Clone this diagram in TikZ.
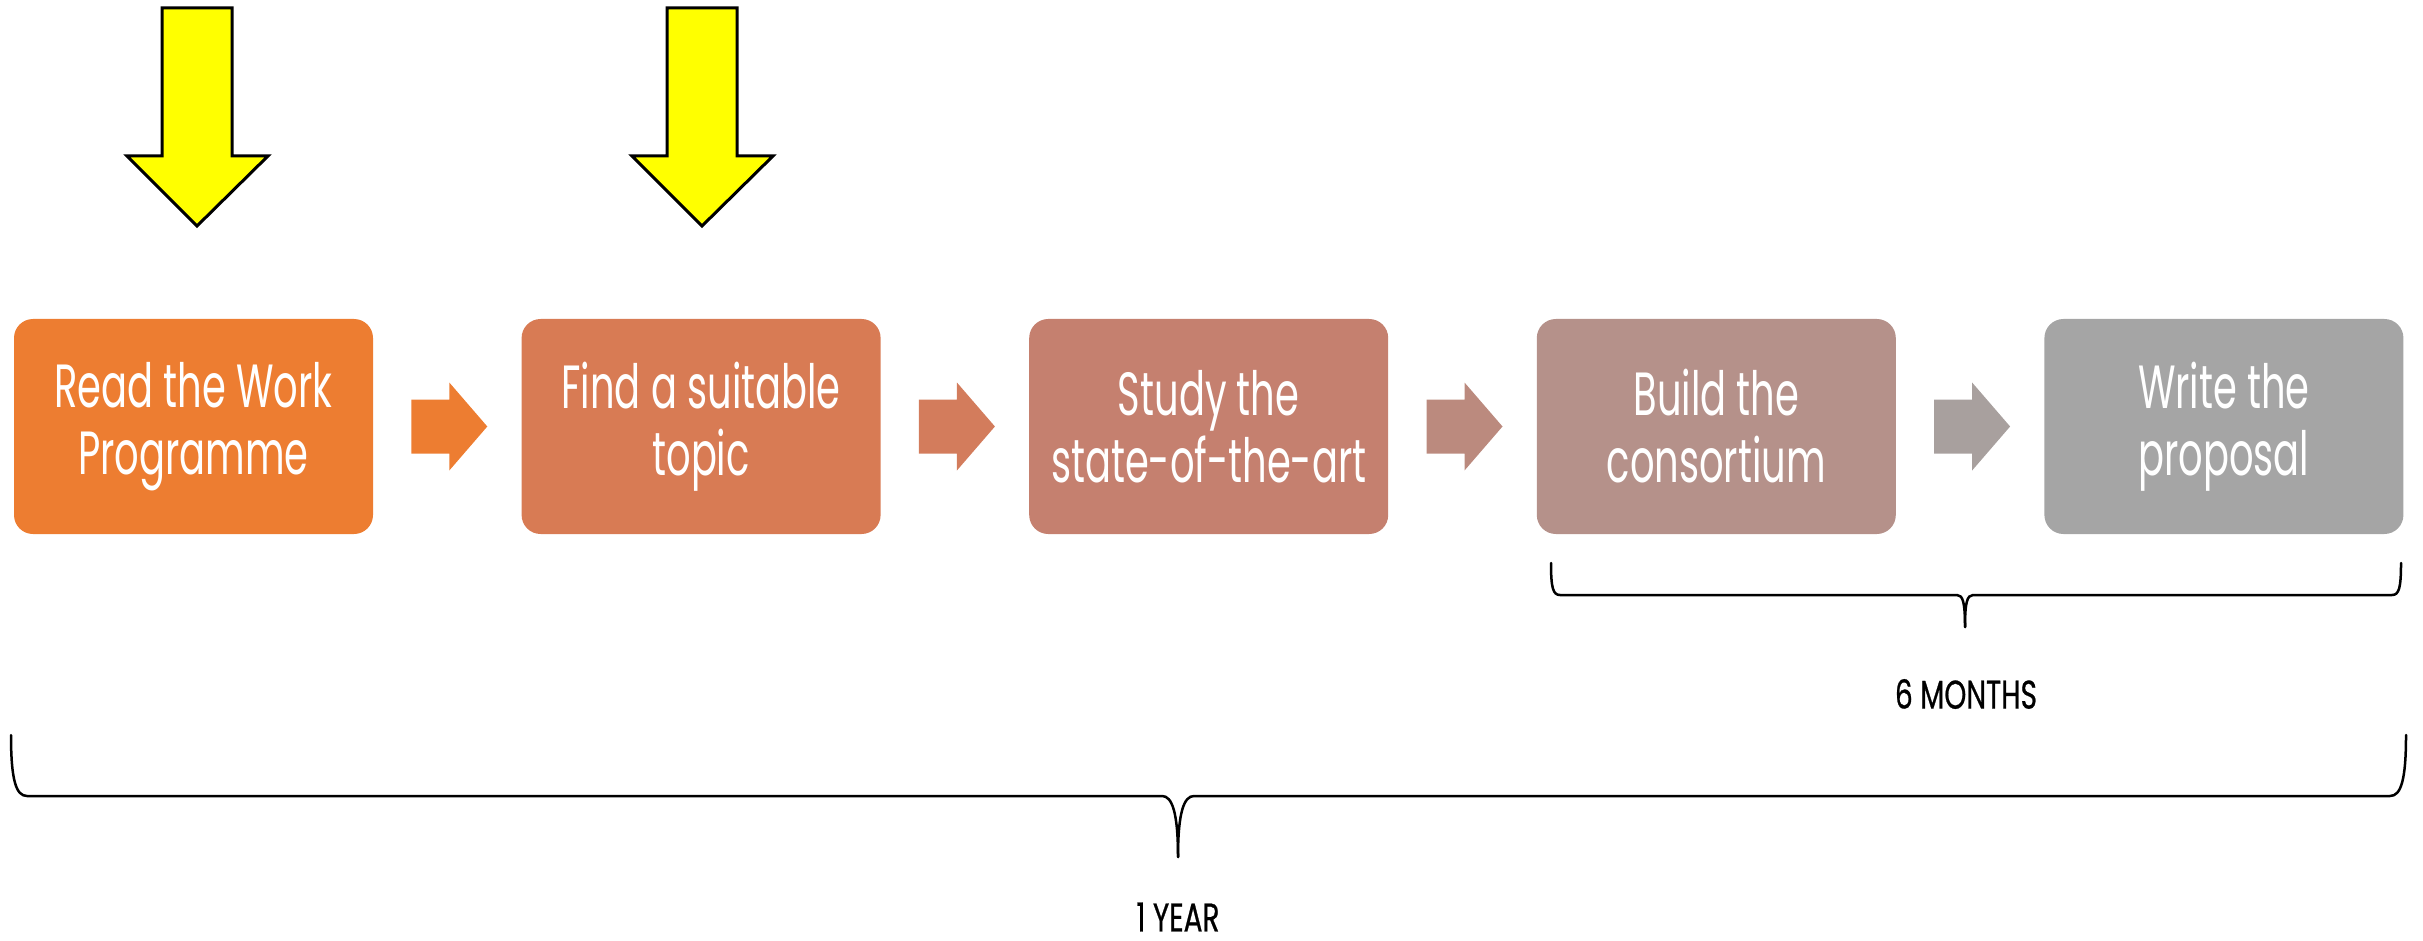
\documentclass[tikz,border=0pt]{standalone}
\usepackage{fontspec}
\setmainfont{Poppins}[FakeStretch=0.63]
\newfontfamily\labelfont{Poppins}[FakeStretch=0.70,FakeBold=0.6]
\usetikzlibrary{calc}
\definecolor{cA}{RGB}{237,125,49}
\definecolor{cB}{RGB}{216,123,84}
\definecolor{cC}{RGB}{197,128,111}
\definecolor{cD}{RGB}{181,145,138}
\definecolor{cE}{RGB}{165,165,165}
\definecolor{kA}{RGB}{237,125,49}
\definecolor{kB}{RGB}{211,124,92}
\definecolor{kC}{RGB}{187,138,126}
\definecolor{kD}{RGB}{168,160,158}
\definecolor{hiyellow}{RGB}{255,255,0}
\tikzset{
  stepbox/.style={rectangle, rounded corners=19pt, minimum width=359pt, minimum height=215pt,
    inner sep=0pt, align=center, text=white, font=\fontsize{61}{67}\selectfont},
  pointer/.style={draw=black, line width=3pt, fill=hiyellow, line join=miter},
  bracestyle/.style={draw=black, line width=2.5pt, line cap=round},
  spanlabel/.style={text=black, inner sep=0pt, font=\labelfont\fontsize{40}{44}\selectfont},
  chevron/.pic={\fill (-38,-27) -- (0,-27) -- (0,-44) -- (38,0) -- (0,44) -- (0,27) -- (-38,27) -- cycle;}
}
\begin{document}
\begin{tikzpicture}[x=1pt,y=-1pt]
\useasboundingbox (0,0) rectangle (2423,941);
% process boxes
\node[stepbox, fill=cA] (s1) at (193.5,426.5) {Read the Work\\Programme};
\node[stepbox, fill=cB] (s2) at (701.1,426.5) {Find a suitable\\topic};
\node[stepbox, fill=cC] (s3) at (1208.7,426.5) {Study the\\state-of-the-art};
\node[stepbox, fill=cD] (s4) at (1716.3,426.5) {Build the\\consortium};
\node[stepbox, fill=cE] (s5) at (2223.9,426.5) {Write the\\proposal};
% block arrows between boxes
\path pic[fill=kA] at ($(s1.east)!0.5!(s2.west)+(2,0)$) {chevron};
\path pic[fill=kB] at ($(s2.east)!0.5!(s3.west)+(2,0)$) {chevron};
\path pic[fill=kC] at ($(s3.east)!0.5!(s4.west)+(2,0)$) {chevron};
\path pic[fill=kD] at ($(s4.east)!0.5!(s5.west)+(2,0)$) {chevron};
% yellow pointers
\draw[pointer] (162,8) -- (232,8) -- (232,156) -- (268,156) -- (197,226) -- (127,156) -- (162,156) -- cycle;
\draw[pointer] (667,8) -- (737,8) -- (737,156) -- (773,156) -- (702,226) -- (632,156) -- (667,156) -- cycle;
% 6 months brace
\coordinate (m6tip) at (1965,627);
\draw[bracestyle] (1551,563) .. controls (1551,588) and (1553,595) .. (1560,595) -- (1957,595)
  .. controls (1963,595) and (1965,603) .. (m6tip);
\draw[bracestyle] (m6tip) .. controls (1965,603) and (1967,595) .. (1973,595) -- (2392,595)
  .. controls (2399,595) and (2401,588) .. (2401,563);
\node[spanlabel] (m6) at (1966,694) {6 MONTHS};
% 1 year brace
\coordinate (y1tip) at (1178,857);
\draw[bracestyle] (11,735) .. controls (11,780) and (16,796) .. (27,796) -- (1162,796)
  .. controls (1172,796) and (1178,812) .. (y1tip);
\draw[bracestyle] (y1tip) .. controls (1178,812) and (1184,796) .. (1194,796) -- (2390,796)
  .. controls (2401,796) and (2406,780) .. (2406,735);
\node[spanlabel] (y1) at (1178,917) {1 YEAR};
\end{tikzpicture}
\end{document}
